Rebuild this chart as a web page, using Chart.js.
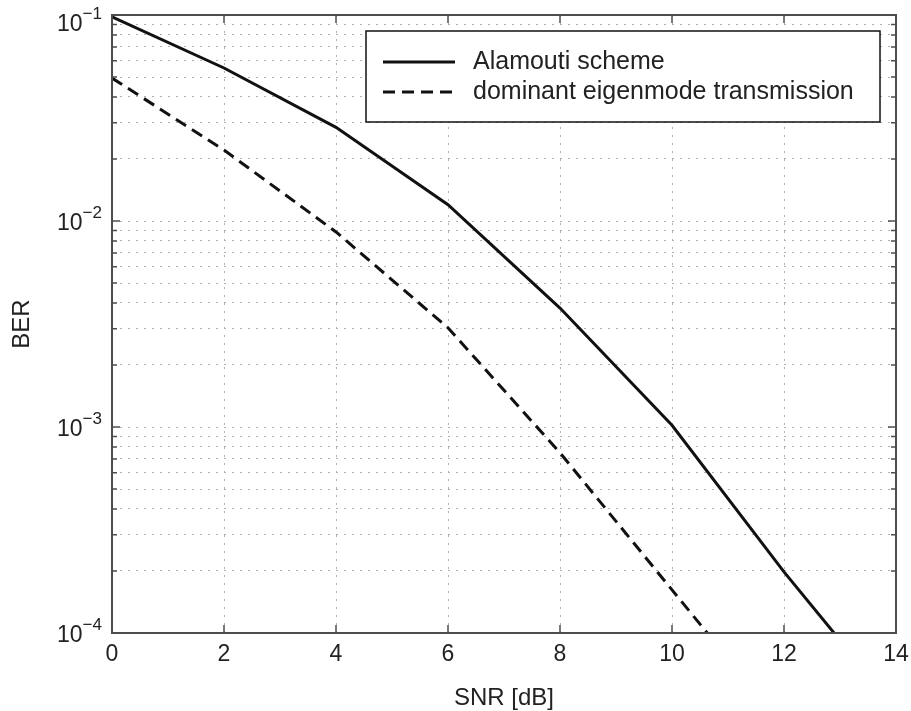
<!DOCTYPE html>
<html>
<head>
<meta charset="utf-8">
<script src="https://cdn.jsdelivr.net/npm/chart.js@4/dist/chart.umd.min.js"></script>
<style>
  body { margin: 0; background: #fff; }
  #wrap { width: 911px; height: 711px; }
</style>
</head>
<body>
<div id="wrap"><canvas id="mycanvas" width="911" height="711"></canvas></div>
<script>
// values
var snr = [0, 2, 4, 6, 8, 10, 12, 14];
var alamouti = [0.098, 0.0553, 0.0285, 0.012, 0.00378, 0.00102, 0.000198, 0.000043];
var eigenmode = [0.0494, 0.0221, 0.00885, 0.00303, 0.00075, 0.000162, 0.000035, null];

var xTicks = [0, 2, 4, 6, 8, 10, 12, 14];
var decades = [1e-4, 1e-3, 1e-2, 1e-1];
var yExps = ['\u22124', '\u22123', '\u22122', '\u22121'];
var mantissas = [1, 2, 3, 4, 5, 6, 7, 8, 9];

var legendLabels = ['Alamouti scheme', 'dominant eigenmode transmission'];

var FONT = '"Liberation Sans", Arial, Helvetica, sans-serif';
var TXT = '#222';

var yTicks = [];
decades.forEach(function (d) {
    mantissas.forEach(function (m) {
        if (d * m <= 0.1000001) yTicks.push({ value: d * m, major: m === 1 });
    });
});

var framePlugin = {
    id: 'framePlugin',
    afterDraw: function (chart) {
        var c = chart.ctx;
        var a = chart.chartArea;
        var xs = chart.scales.x;
        var ys = chart.scales.y;
        c.save();

        // inward ticks on all four sides
        c.strokeStyle = '#4d4d4d';
        c.lineWidth = 1.5;
        c.beginPath();
        xTicks.forEach(function (v) {
            var px = xs.getPixelForValue(v);
            c.moveTo(px, a.bottom); c.lineTo(px, a.bottom - 8);
            c.moveTo(px, a.top); c.lineTo(px, a.top + 8);
        });
        ys.ticks.forEach(function (t) {
            var py = ys.getPixelForValue(t.value);
            var len = t.major ? 8 : 5;
            c.moveTo(a.left, py); c.lineTo(a.left + len, py);
            c.moveTo(a.right, py); c.lineTo(a.right - len, py);
        });
        c.stroke();

        c.lineWidth = 2;
        c.strokeRect(a.left, a.top, a.right - a.left, a.bottom - a.top);

        // y labels 10^n
        c.fillStyle = TXT;
        c.textBaseline = 'alphabetic';
        decades.forEach(function (d, i) {
            var py = ys.getPixelForValue(d);
            var base = Math.max(py + 8.5, 31);
            var xr = a.left - 10;
            c.font = '17px ' + FONT;
            var sw = c.measureText(yExps[i]).width;
            c.textAlign = 'left';
            c.fillText(yExps[i], xr - sw, base - 12);
            c.font = '23px ' + FONT;
            c.textAlign = 'right';
            c.fillText('10', xr - sw, base);
        });

        // legend box
        var bx = 366, by = 31, bw = a.right - 16 - 366, bh = 91;
        c.fillStyle = '#fff';
        c.fillRect(bx, by, bw, bh);
        c.strokeStyle = '#111';
        c.lineWidth = 1.5;
        c.strokeRect(bx, by, bw, bh);
        chart.data.datasets.forEach(function (ds, i) {
            var ly = by + 31 + i * 30;
            c.strokeStyle = ds.borderColor;
            c.lineWidth = ds.borderWidth;
            c.setLineDash(ds.borderDash || []);
            c.beginPath();
            c.moveTo(bx + 17, ly);
            c.lineTo(bx + 89, ly);
            c.stroke();
            c.setLineDash([]);
            c.fillStyle = TXT;
            c.font = '25px ' + FONT;
            c.textAlign = 'left';
            c.textBaseline = 'middle';
            c.fillText(ds.label, bx + 107, ly);
        });

        c.restore();
    }
};

var ctx = document.getElementById('mycanvas');
var chart = new Chart(ctx, {
    type: 'line',
    data: {
        labels: snr,
        datasets: [
            {
                label: legendLabels[0],
                data: alamouti,
                borderColor: '#111',
                borderWidth: 3,
                pointRadius: 0,
                tension: 0,
                fill: false
            },
            {
                label: legendLabels[1],
                data: eigenmode,
                borderColor: '#111',
                borderWidth: 3,
                borderDash: [12, 7],
                pointRadius: 0,
                tension: 0,
                fill: false
            }
        ]
    },
    options: {
        responsive: false,
        animation: false,
        layout: { padding: { top: 15, right: 15, left: 0, bottom: 0 } },
        plugins: {
            legend: { display: false },
            tooltip: { enabled: false }
        },
        scales: {
            x: {
                type: 'linear',
                min: 0,
                max: 14,
                afterBuildTicks: function (scale) {
                    scale.ticks = xTicks.map(function (v) { return { value: v }; });
                },
                afterFit: function (scale) {
                    scale.height = 78;
                    scale.paddingLeft = 0;
                    scale.paddingRight = 0;
                },
                ticks: {
                    padding: 8,
                    color: TXT,
                    font: { family: FONT, size: 23 },
                    maxRotation: 0,
                    autoSkip: false
                },
                grid: { color: '#b0b0b0', lineWidth: 1, drawTicks: false },
                border: { display: false, dash: [2, 6] },
                title: {
                    display: true,
                    text: 'SNR [dB]',
                    color: TXT,
                    font: { family: FONT, size: 24 },
                    padding: { top: 0, bottom: -2 }
                }
            },
            y: {
                type: 'logarithmic',
                min: 1e-4,
                max: 1e-1,
                afterBuildTicks: function (scale) {
                    scale.ticks = yTicks.map(function (t) { return { value: t.value, major: t.major }; });
                },
                afterFit: function (scale) {
                    scale.width = 112;
                },
                ticks: { display: false },
                grid: { color: '#b0b0b0', lineWidth: 1, drawTicks: false },
                border: { display: false, dash: [2, 6] },
                title: {
                    display: true,
                    text: 'BER',
                    color: TXT,
                    font: { family: FONT, size: 24 },
                    padding: { top: 8, bottom: 0 }
                }
            }
        }
    },
    plugins: [framePlugin]
});
</script>
</body>
</html>
